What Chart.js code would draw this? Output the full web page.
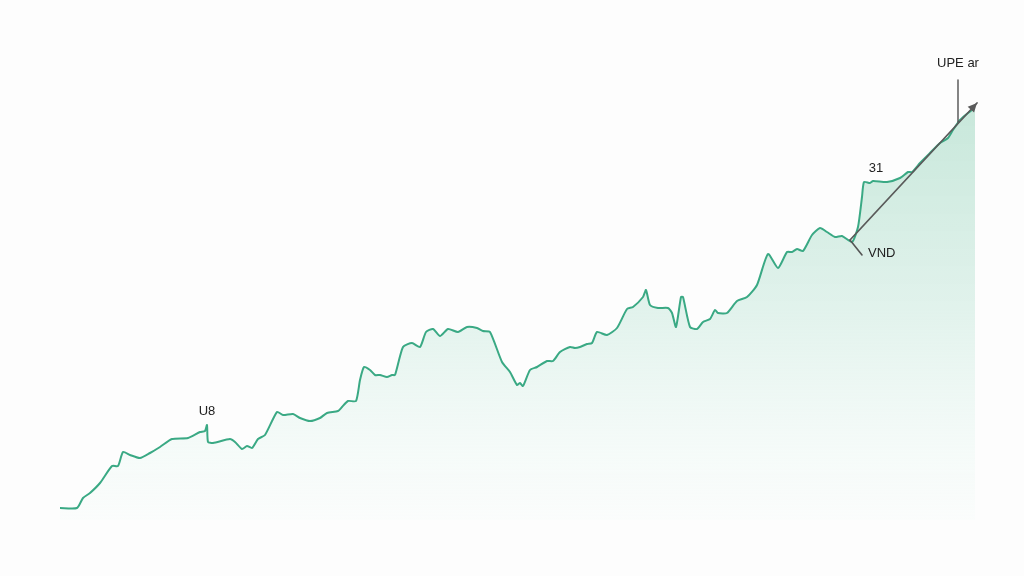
<!DOCTYPE html>
<html>
<head>
<meta charset="utf-8">
<script src="https://cdn.jsdelivr.net/npm/chart.js@4/dist/chart.umd.min.js"></script>
<style>
  html, body { margin: 0; padding: 0; background: #fdfdfd; }
  #wrap { width: 1024px; height: 576px; position: relative; }
</style>
</head>
<body>
<div id="wrap"><canvas id="priceChart"></canvas></div>
<script>
// values (day index, price units)
const days = [0,17,23,30,40,52,58,63,70,80,90,100,112,128,140,145,147,148,153,170,175,182,187,192,198,205,217,223,233,240,250,260,267,278,282,288,296,300,304,310,315,320,327,332,335,343,352,360,366,373,380,388,398,407,417,423,430,442,450,457,460,463,470,477,487,493,500,510,515,520,527,532,537,547,557,567,573,583,586,590,598,608,612,616,621,623,630,637,643,650,655,658,667,677,687,697,708,718,727,732,737,743,752,760,767,775,782,792,798,802,804,810,813,827,840,848,852,860,870,880,888,893,900,908,915];
const prices = [12,12,22,27,37,54,54,68,65,62,67,73,81,82,88,89,95,78,77,81,78,71,74,72,81,85,108,105,106,102,99,102,107,109,113,119,119,140,153,150,145,145,143,145,145,173,177,173,188,191,184,191,188,193,192,189,188,158,148,135,137,134,150,153,159,159,168,173,172,173,176,177,188,185,192,211,213,223,230,215,212,212,207,193,223,223,193,191,198,201,210,207,207,219,223,235,266,252,268,268,271,269,285,292,288,283,284,278,293,323,338,337,339,338,342,348,348,357,367,377,382,390,400,407,412];

// annotation labels and where they sit (data units)
const labels = [
  { text: 'UPE ar', day: 898, price: 457, align: 'center' },
  { text: '31', day: 816, price: 352, align: 'center' },
  { text: 'VND', day: 808, price: 267, align: 'left' },
  { text: 'U8', day: 147, price: 109, align: 'center' }
];
const trendArrow = { from: [790, 280], to: [917, 417] };
const vndTick = { from: [790, 280], to: [802, 265] };
const upeLine = { from: [898, 440], to: [898, 398] };

const annotations = {
  id: 'annotations',
  afterDatasetsDraw(chart) {
    const { ctx, scales: { x, y } } = chart;
    const px = p => [x.getPixelForValue(p[0]), y.getPixelForValue(p[1])];

    ctx.save();
    ctx.lineCap = 'round';

    // vertical marker under "UPE ar"
    let a = px(upeLine.from), b = px(upeLine.to);
    ctx.strokeStyle = '#444';
    ctx.lineWidth = 1.3;
    ctx.beginPath(); ctx.moveTo(a[0], a[1]); ctx.lineTo(b[0], b[1]); ctx.stroke();

    // small tick toward VND
    a = px(vndTick.from); b = px(vndTick.to);
    ctx.strokeStyle = '#555';
    ctx.lineWidth = 1.6;
    ctx.beginPath(); ctx.moveTo(a[0], a[1]); ctx.lineTo(b[0], b[1]); ctx.stroke();

    // trend arrow
    a = px(trendArrow.from); b = px(trendArrow.to);
    ctx.strokeStyle = '#5a5a5a';
    ctx.fillStyle = '#5a5a5a';
    ctx.lineWidth = 1.8;
    ctx.beginPath(); ctx.moveTo(a[0], a[1]); ctx.lineTo(b[0], b[1]); ctx.stroke();
    const ang = Math.atan2(b[1] - a[1], b[0] - a[0]);
    const head = 10;
    ctx.beginPath();
    ctx.moveTo(b[0], b[1]);
    ctx.lineTo(b[0] - head * Math.cos(ang - 0.45), b[1] - head * Math.sin(ang - 0.45));
    ctx.lineTo(b[0] - head * Math.cos(ang + 0.45), b[1] - head * Math.sin(ang + 0.45));
    ctx.closePath();
    ctx.fill();

    // text labels
    ctx.fillStyle = '#222';
    ctx.font = '13px "Liberation Sans", Arial, sans-serif';
    ctx.textBaseline = 'middle';
    labels.forEach(l => {
      const p = px([l.day, l.price]);
      ctx.textAlign = l.align;
      ctx.fillText(l.text, p[0], p[1]);
    });
    ctx.restore();
  }
};

const ctx = document.getElementById('priceChart');
new Chart(ctx, {
  type: 'line',
  data: {
    datasets: [{
      data: days.map((d, i) => ({ x: d, y: prices[i] })),
      borderColor: '#3aa984',
      borderWidth: 2,
      pointRadius: 0,
      tension: 0.2,
      fill: 'start',
      backgroundColor: (context) => {
        const area = context.chart.chartArea;
        if (!area) return 'rgba(200,232,218,0.6)';
        const g = context.chart.ctx.createLinearGradient(0, area.top + 60, 0, area.bottom);
        g.addColorStop(0, 'rgba(196,230,216,0.95)');
        g.addColorStop(0.5, 'rgba(222,241,234,0.9)');
        g.addColorStop(1, 'rgba(250,253,252,0.6)');
        return g;
      }
    }]
  },
  options: {
    responsive: true,
    maintainAspectRatio: false,
    animation: false,
    layout: { padding: { left: 60, right: 49, top: 40, bottom: 56 } },
    plugins: { legend: { display: false }, tooltip: { enabled: false } },
    scales: {
      x: { type: 'linear', min: 0, max: 915, display: false },
      y: { min: 0, max: 480, display: false }
    }
  },
  plugins: [annotations]
});
</script>
</body>
</html>
